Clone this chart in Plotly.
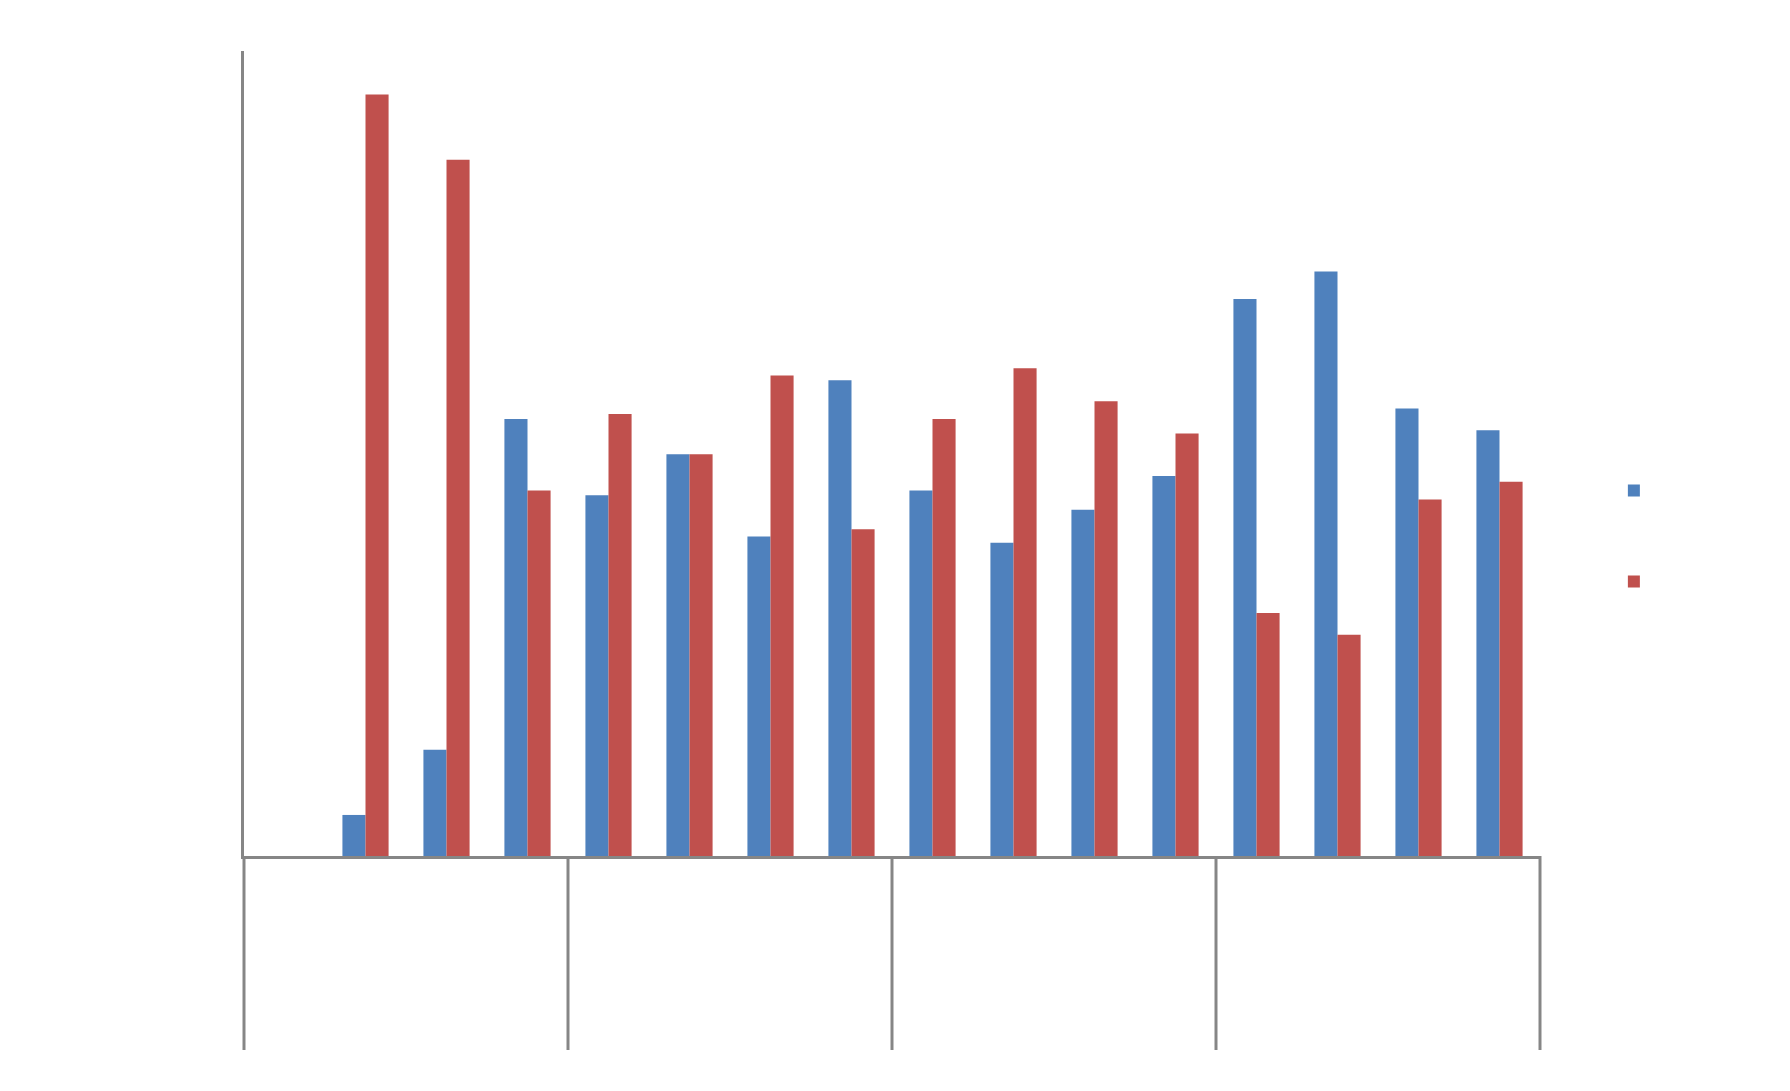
import plotly.graph_objects as go

categories = [str(i) for i in range(1, 17)]
group_size = 4
series_blue = [None, 5.1, 13.2, 54.3, 44.8, 49.9, 39.7, 59.1, 45.4, 38.9, 43.0, 47.2, 69.2, 72.6, 55.6, 52.9]
series_red = [None, 94.6, 86.5, 45.4, 54.9, 49.9, 59.7, 40.6, 54.3, 60.6, 56.5, 52.5, 30.2, 27.5, 44.3, 46.5]

BLUE = "#4F81BD"
RED = "#C0504D"
GREY = "#868686"

fig = go.Figure()
fig.add_trace(go.Bar(x=categories, y=series_blue, name="", marker=dict(color=BLUE, line=dict(width=0)),
                     legendgroup="a"))
fig.add_trace(go.Bar(x=categories, y=series_red, name="", marker=dict(color=RED, line=dict(width=0)),
                     legendgroup="b"))

n = len(categories)
for k in range(0, n + 1, group_size):
    fig.add_shape(type="line", xref="paper", yref="paper", x0=k / n, x1=k / n, y0=0, y1=-0.241,
                  line=dict(color=GREY, width=3), layer="above")

fig.update_layout(
    width=1790, height=1091,
    margin=dict(l=236, r=258, t=43, b=243),
    paper_bgcolor="white", plot_bgcolor="white",
    barmode="group", bargap=0.43, bargroupgap=0,
    showlegend=True,
    legend=dict(x=1.057, xanchor="left", y=0.4721, yanchor="top",
                tracegroupgap=72, font=dict(size=12), bgcolor="rgba(0,0,0,0)"),
    xaxis=dict(range=[-0.5, 15.5], showline=True, linecolor=GREY, linewidth=3,
               showticklabels=False, ticks="", showgrid=False, zeroline=False, fixedrange=True),
    yaxis=dict(range=[0, 100], showline=True, linecolor=GREY, linewidth=3,
               showticklabels=False, ticks="", showgrid=False, zeroline=False),
)

fig.write_html("out.html")
